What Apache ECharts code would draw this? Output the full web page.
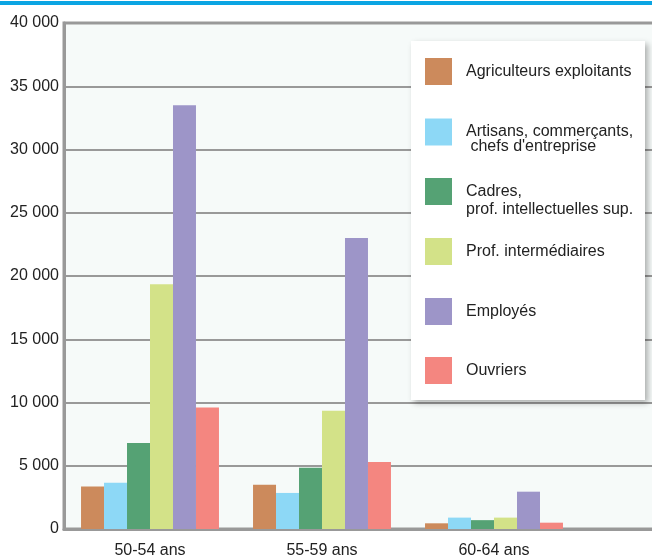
<!DOCTYPE html>
<html><head><meta charset="utf-8">
<script src="https://cdn.jsdelivr.net/npm/echarts@6/dist/echarts.min.js"></script>
<style>html,body{margin:0;padding:0;background:#fff}#c{width:652px;height:559px}</style>
</head><body><div id="c"></div>
<script>
const categories = ['50-54 ans', '55-59 ans', '60-64 ans', ''];
const seriesNames = [
  'Agriculteurs exploitants',
  'Artisans, commerçants,\n chefs d\'entreprise',
  'Cadres,\nprof. intellectuelles sup.',
  'Prof. intermédiaires',
  'Employés',
  'Ouvriers'
];
const agriculteurs = [3350, 3500, 450];
const artisans = [3650, 2850, 900];
const cadres = [6800, 4850, 700];
const profInter = [19350, 9350, 900];
const employes = [33500, 23000, 2950];
const ouvriers = [9600, 5300, 500];
const yTicks = [0, 5000, 10000, 15000, 20000, 25000, 30000, 35000, 40000];

const values = [agriculteurs, artisans, cadres, profInter, employes, ouvriers];
const colors = ['#cc8a5c', '#8dd8f6', '#55a274', '#d3e288', '#9d95c8', '#f48680'];
const font = '"Liberation Sans", Arial, sans-serif';

// legend layout: [squareTop, lineHeight, twoLine]
const legendLayout = [
  [58, 18, false],
  [118, 15, true],
  [178, 18, true],
  [238, 18, false],
  [298, 18, false],
  [357, 18, false]
];

const chart = echarts.init(document.getElementById('c'), null, {renderer: 'canvas'});
chart.setOption({
  animation: false,
  graphic: [
    {type: 'rect', z: 10, shape: {x: 0, y: 1, width: 652, height: 4}, style: {fill: '#0ba5e3'}},
    {type: 'rect', z: 10, shape: {x: 411, y: 41, width: 234, height: 359},
     style: {fill: '#ffffff', shadowBlur: 6, shadowOffsetX: 3, shadowOffsetY: 3, shadowColor: 'rgba(0,0,0,0.3)'}}
  ],
  legend: seriesNames.map((n, i) => {
    const [sq, lh, two] = legendLayout[i];
    const h = two ? 3 * lh : 27;
    return {
      z: 20,
      orient: 'vertical',
      left: 425,
      top: sq - (Math.max(h, 27) - 27) / 2,
      padding: 0,
      itemWidth: 27,
      itemHeight: 27,
      icon: 'rect',
      selectedMode: false,
      data: [n],
      formatter: name => (two ? ' \n' + name : name),
      textStyle: {
        fontFamily: font, fontSize: 16, color: '#222',
        lineHeight: lh,
        padding: [0, 0, 0, 9]
      }
    };
  }),
  grid: {
    left: 64, top: 23, width: 688, bottom: 30,
    outerBoundsMode: 'none', containLabel: false,
    show: true, backgroundColor: '#f6faf9', borderColor: '#999', borderWidth: 3
  },
  xAxis: {
    type: 'category',
    data: categories,
    axisTick: {show: false},
    axisLine: {show: true, lineStyle: {color: '#999', width: 3}},
    axisLabel: {fontFamily: font, fontSize: 16, color: '#222', margin: 14}
  },
  yAxis: {
    type: 'value',
    min: yTicks[0], max: yTicks[yTicks.length - 1], interval: 5000,
    axisTick: {show: false},
    axisLine: {show: true, lineStyle: {color: '#999', width: 3}},
    splitLine: {lineStyle: {color: '#999', width: 2}},
    axisLabel: {
      fontFamily: font, fontSize: 16, color: '#222', margin: 5,
      formatter: v => String(v).replace(/\B(?=(\d{3})+(?!\d))/g, ' ')
    }
  },
  series: seriesNames.map((n, i) => ({
    name: n,
    type: 'bar',
    data: values[i],
    barGap: '0%',
    barCategoryGap: '19.8%',
    itemStyle: {color: colors[i]}
  }))
});
</script>
</body></html>
